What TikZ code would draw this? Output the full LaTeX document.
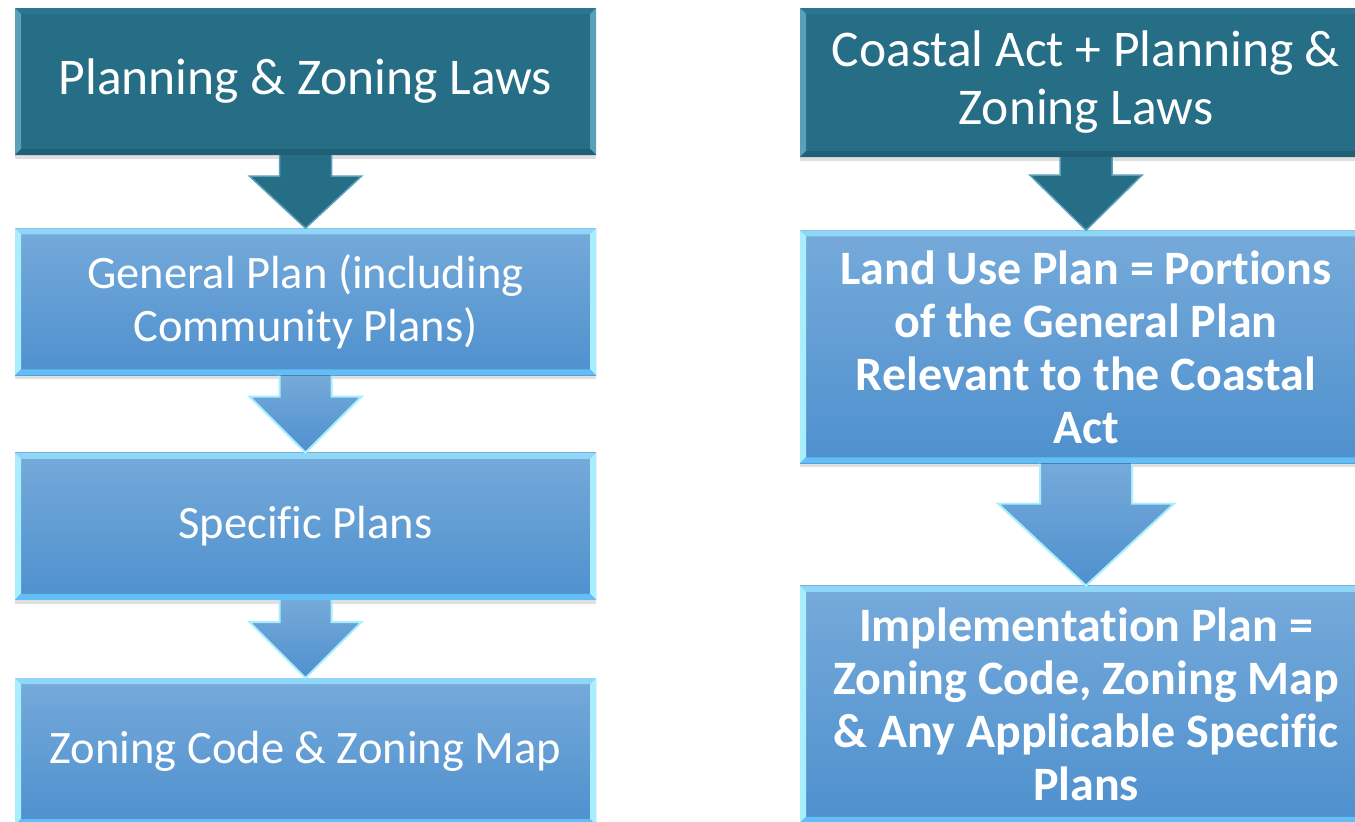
\documentclass[tikz,border=0pt]{standalone}
\usepackage{fontspec}
\setmainfont{Carlito}[Ligatures=NoCommon]
\usetikzlibrary{positioning,calc,shadows}

\definecolor{tealbox}{RGB}{38,109,134}
\definecolor{tealtop}{RGB}{45,118,143}
\definecolor{tealside}{RGB}{90,160,185}
\definecolor{tealbot}{RGB}{32,95,118}
\definecolor{bluetop}{RGB}{118,170,218}
\definecolor{bluebot}{RGB}{78,144,206}
\definecolor{bevtop}{RGB}{143,214,247}
\definecolor{bevside}{RGB}{168,238,253}
\definecolor{bevbot}{RGB}{100,190,246}

% block arrow: style, from node, to node, half shaft, half head, head length
\newcommand{\blockarrow}[6]{%
  \fill[#1] ($(#2.south)+(-#4,0)$) -- ($(#3.north)+(-#4,-#6)$) -- ($(#3.north)+(-#5,-#6)$)
    -- (#3.north) -- ($(#3.north)+(#5,-#6)$) -- ($(#3.north)+(#4,-#6)$) -- ($(#2.south)+(#4,0)$) -- cycle;
  \draw[#1 edge] ($(#2.south)+(-#4,0)$) -- ($(#3.north)+(-#4,-#6)$) -- ($(#3.north)+(-#5,-#6)$)
    -- (#3.north) -- ($(#3.north)+(#5,-#6)$) -- ($(#3.north)+(#4,-#6)$) -- ($(#2.south)+(#4,0)$);
}

\begin{document}
\begin{tikzpicture}[
	x=1pt, y=-1pt,
	text=white,
	bevel/.style n args={3}{path picture={
		\coordinate (bnw) at (path picture bounding box.north west);
		\coordinate (bne) at (path picture bounding box.north east);
		\coordinate (bsw) at (path picture bounding box.south west);
		\coordinate (bse) at (path picture bounding box.south east);
		\fill[#1] (bnw) -- (bne) -- ([shift={(-6pt,-6pt)}]bne) -- ([shift={(6pt,-6pt)}]bnw) -- cycle;
		\fill[#2] (bnw) -- (bsw) -- ([shift={(6pt,6pt)}]bsw) -- ([shift={(6pt,-6pt)}]bnw) -- cycle;
		\fill[#2] (bne) -- (bse) -- ([shift={(-6pt,6pt)}]bse) -- ([shift={(-6pt,-6pt)}]bne) -- cycle;
		\fill[#3] (bsw) -- (bse) -- ([shift={(-6pt,6pt)}]bse) -- ([shift={(6pt,6pt)}]bsw) -- cycle;
	}},
	box/.style={rectangle, inner sep=0pt, align=center,
		drop shadow={opacity=0.25, shadow xshift=0pt, shadow yshift=-4pt}},
	darkbox/.style={box, fill=tealbox, bevel={tealtop}{tealside}{tealbot},
		font=\fontsize{51.5}{58}\selectfont},
	lightbox/.style={box, top color=bluetop, bottom color=bluebot, bevel={bevtop}{bevside}{bevbot},
		font=\fontsize{46.5}{53}\selectfont},
	boldbox/.style={lightbox, font=\fontsize{48}{53}\selectfont\bfseries},
	tealarrow/.style={fill=tealbox},
	tealarrow edge/.style={draw=tealside, line width=1.5pt},
	bluearrow/.style={top color=bluetop, bottom color=bluebot},
	bluearrow edge/.style={draw=bevside, line width=2pt},
	]

	\clip (0,0) rectangle (1355,822);

	%% left column
	\node (L1) [darkbox, minimum width=581pt, minimum height=147pt] at (305.5,81.5)
		{Planning \& Zoning Laws};
	\node (L2) [lightbox, minimum width=581pt, minimum height=147pt, below=73pt of L1]
		{General Plan (including\\Community Plans)};
	\node (L3) [lightbox, minimum width=581pt, minimum height=147pt, below=77pt of L2]
		{Specific Plans};
	\node (L4) [lightbox, minimum width=581pt, minimum height=147pt, below=78pt of L3]
		{Zoning Code \& Zoning Map};

	%% right column
	\node (R1) [darkbox, minimum width=572pt, minimum height=149pt] at (1086,82.5)
		{Coastal Act + Planning \&\\Zoning Laws};
	\node (R2) [boldbox, minimum width=572pt, minimum height=233pt, below=73pt of R1]
		{Land Use Plan = Portions\\of the General Plan\\Relevant to the Coastal\\Act};
	\node (R3) [boldbox, minimum width=572pt, minimum height=237pt, below=122pt of R2]
		{Implementation Plan =\\Zoning Code, Zoning Map\\\& Any Applicable Specific\\Plans};

	%% arrows
	\blockarrow{tealarrow}{L1}{L2}{26}{56}{52}
	\blockarrow{bluearrow}{L2}{L3}{26}{56}{56}
	\blockarrow{bluearrow}{L3}{L4}{26}{56}{56}
	\blockarrow{tealarrow}{R1}{R2}{26}{56}{55}
	\blockarrow{bluearrow}{R2}{R3}{46}{88}{82}

\end{tikzpicture}
\end{document}
